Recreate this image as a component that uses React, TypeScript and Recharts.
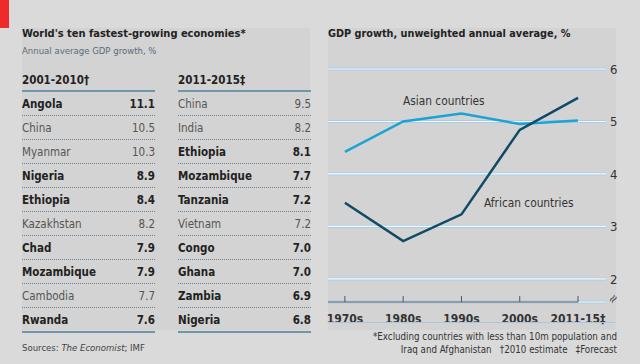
import React from 'react';
import { LineChart, Line, XAxis, YAxis, CartesianGrid, ReferenceLine } from 'recharts';

// --- Data ---
const PERIODS = ['1970s', '1980s', '1990s', '2000s', '2011-15‡'];
const ASIAN = [4.42, 5.0, 5.15, 4.95, 5.02];
const AFRICAN = [3.45, 2.72, 3.23, 4.84, 5.45];
const Y_TICKS = [2, 3, 4, 5, 6];

const LEFT_NAMES = ['Angola', 'China', 'Myanmar', 'Nigeria', 'Ethiopia', 'Kazakhstan', 'Chad', 'Mozambique', 'Cambodia', 'Rwanda'];
const LEFT_VALUES = ['11.1', '10.5', '10.3', '8.9', '8.4', '8.2', '7.9', '7.9', '7.7', '7.6'];
const LEFT_AFRICAN = [true, false, false, true, true, false, true, true, false, true];

const RIGHT_NAMES = ['China', 'India', 'Ethiopia', 'Mozambique', 'Tanzania', 'Vietnam', 'Congo', 'Ghana', 'Zambia', 'Nigeria'];
const RIGHT_VALUES = ['9.5', '8.2', '8.1', '7.7', '7.2', '7.2', '7.0', '7.0', '6.9', '6.8'];
const RIGHT_AFRICAN = [false, false, true, true, true, false, true, true, true, true];

const Y_MIN = 1.56;
const X_MIN = -0.29;
const X_MAX = 4.48;

const FONT = "'DejaVu Sans Condensed', 'Liberation Sans Narrow', sans-serif";
const LINE_BLUE = '#6f97a8';

const chartData = PERIODS.map((p, i) => ({ i, period: p, asian: ASIAN[i], african: AFRICAN[i] }));

const XTick = ({ x, y, payload }: any) => (
    <g>
        <line x1={x} x2={x} y1={y - 6} y2={y} stroke="#555" strokeWidth={1} />
        <text x={x} y={y + 21} textAnchor="middle" fontFamily={FONT} fontSize={12} fontWeight={700} fill="#333">
            {PERIODS[payload.value]}
        </text>
    </g>
);

const TableColumn: React.FC<{ left: number; header: string; names: string[]; values: string[]; bold: boolean[] }> = ({ left, header, names, values, bold }) => (
    <div style={{ position: 'absolute', left, top: 72, width: 133 }}>
        <div style={{ fontSize: 11.5, fontWeight: 700, color: '#222', height: 17, borderBottom: `2px solid ${LINE_BLUE}`, paddingTop: 1 }}>
            {header}
        </div>
        {names.map((name, i) => (
            <div
                key={name + i}
                style={{
                    display: 'flex', justifyContent: 'space-between', alignItems: 'center',
                    height: 22, marginTop: 1,
                    borderBottom: i === names.length - 1 ? `2px solid ${LINE_BLUE}` : '1px dotted #6c8494',
                    fontSize: 11.5, fontWeight: bold[i] ? 700 : 400, color: bold[i] ? '#222' : '#555',
                }}
            >
                <span>{name}</span>
                <span>{values[i]}</span>
            </div>
        ))}
    </div>
);

export default function App() {
    return (
        <div style={{ position: 'fixed', left: 0, top: 0, width: 640, height: 364, background: '#dadada', fontFamily: FONT, overflow: 'hidden' }}>
            <div style={{ position: 'absolute', left: 0, top: 0, width: 9, height: 28, background: '#ee2a2a' }} />
            <div style={{ position: 'absolute', left: 22, top: 28, width: 288, height: 302, background: '#d3d3d3' }} />
            <div style={{ position: 'absolute', left: 328, top: 28, width: 288, height: 302, background: '#d3d3d3' }} />

            {/* left table */}
            <div style={{ position: 'absolute', left: 22, top: 27, fontSize: 11, fontWeight: 700, color: '#222' }}>
                World's ten fastest-growing economies*
            </div>
            <div style={{ position: 'absolute', left: 22, top: 45, fontSize: 9.5, color: '#5b6b7a' }}>
                Annual average GDP growth, %
            </div>
            <TableColumn left={22} header="2001-2010†" names={LEFT_NAMES} values={LEFT_VALUES} bold={LEFT_AFRICAN} />
            <TableColumn left={178} header="2011-2015‡" names={RIGHT_NAMES} values={RIGHT_VALUES} bold={RIGHT_AFRICAN} />
            <div style={{ position: 'absolute', left: 22, top: 342, fontSize: 9.5, color: '#444' }}>
                Sources: <i>The Economist</i>; IMF
            </div>

            {/* right chart */}
            <div style={{ position: 'absolute', left: 328, top: 27, fontSize: 10.8, fontWeight: 700, color: '#222' }}>
                GDP growth, unweighted annual average, %
            </div>
            <div style={{ position: 'absolute', left: 316, top: 60 }}>
                <LineChart width={312} height={272} data={chartData} margin={{ top: 9, right: 2, bottom: 0, left: 12 }}>
                    <CartesianGrid horizontal vertical={false} stroke="#a9cde6" strokeWidth={3} />
                    <CartesianGrid horizontal vertical={false} stroke="#f5f9fc" strokeWidth={1.2} />
                    <XAxis
                        dataKey="i"
                        type="number"
                        domain={[X_MIN, X_MAX]}
                        ticks={[0, 1, 2, 3, 4]}
                        axisLine={false}
                        tickLine={false}
                        tickSize={0}
                        tickMargin={0}
                        height={30}
                        tick={<XTick />}
                        interval={0}
                    />
                    <YAxis
                        orientation="right"
                        type="number"
                        domain={[Y_MIN, 6]}
                        ticks={Y_TICKS}
                        axisLine={false}
                        tickLine={false}
                        tickSize={0}
                        tickMargin={4}
                        width={20}
                        tick={{ fontFamily: FONT, fontSize: 13, fill: '#333' }}
                    />
                    <ReferenceLine segment={[{ x: X_MIN, y: Y_MIN }, { x: 4, y: Y_MIN }]} stroke="#555" strokeWidth={1.2} />
                    <Line dataKey="asian" stroke="#1ba3d6" strokeWidth={2.5} dot={false} isAnimationActive={false} />
                    <Line dataKey="african" stroke="#0f4a66" strokeWidth={2.5} dot={false} isAnimationActive={false} />
                </LineChart>
            </div>
            <div style={{ position: 'absolute', left: 403, top: 94, fontSize: 11.8, color: '#333' }}>Asian countries</div>
            <div style={{ position: 'absolute', left: 484, top: 196, fontSize: 11.8, color: '#333' }}>African countries</div>
            <div style={{ position: 'absolute', left: 608, top: 291, fontSize: 13, color: '#555', transform: 'rotate(-50deg)' }}>≈</div>
            <div style={{ position: 'absolute', left: 328, top: 322, width: 287, height: 1, background: '#a8c8e0' }} />

            <div style={{ position: 'absolute', right: 23, top: 330, fontSize: 9.7, color: '#333', textAlign: 'right', lineHeight: '13px' }}>
                *Excluding countries with less than 10m population and<br />
                Iraq and Afghanistan &nbsp; †2010 estimate &nbsp; ‡Forecast
            </div>
        </div>
    );
}
